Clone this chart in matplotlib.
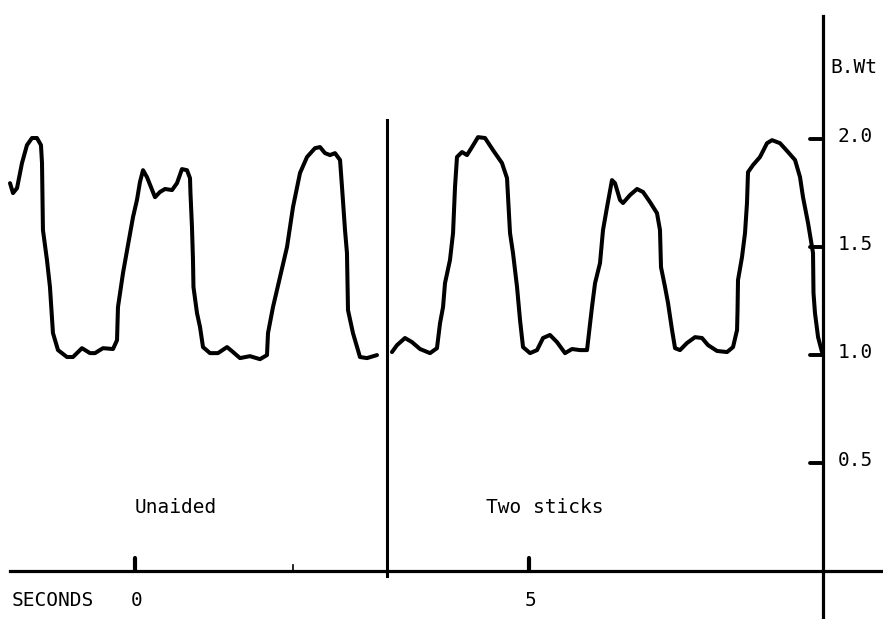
import matplotlib
matplotlib.use("Agg")
import matplotlib.pyplot as plt

# Body-weight trace, time in seconds, weight in body-weight units
unaided_t = [-1.586, -1.548, -1.497, -1.434, -1.371, -1.307, -1.244, -1.193, -1.180, -1.168,
             -1.117, -1.079, -1.041, -0.977, -0.863, -0.787, -0.673, -0.571, -0.508, -0.406,
             -0.279, -0.228, -0.216, -0.152, -0.089, -0.025, 0.025, 0.063, 0.102, 0.152,
             0.254, 0.317, 0.381, 0.470, 0.533, 0.596, 0.660, 0.698, 0.704, 0.723,
             0.736, 0.742, 0.787, 0.825, 0.863, 0.952, 1.053, 1.168, 1.244, 1.332,
             1.459, 1.586, 1.675, 1.688, 1.751, 1.840, 1.929, 2.005, 2.094, 2.183,
             2.284, 2.348, 2.411, 2.475, 2.538, 2.602, 2.627, 2.665, 2.690, 2.703,
             2.766, 2.855, 2.944, 3.071]
unaided_w = [1.796, 1.750, 1.773, 1.889, 1.972, 2.005, 2.005, 1.972, 1.889, 1.579,
             1.440, 1.315, 1.102, 1.023, 0.991, 0.991, 1.032, 1.009, 1.009, 1.032,
             1.028, 1.069, 1.222, 1.380, 1.509, 1.639, 1.718, 1.801, 1.856, 1.824,
             1.731, 1.755, 1.769, 1.764, 1.796, 1.861, 1.856, 1.819, 1.750, 1.593,
             1.440, 1.315, 1.194, 1.130, 1.037, 1.009, 1.009, 1.037, 1.014, 0.986,
             0.995, 0.981, 1.000, 1.102, 1.222, 1.361, 1.500, 1.685, 1.843, 1.917,
             1.958, 1.963, 1.935, 1.926, 1.935, 1.903, 1.778, 1.579, 1.472, 1.208,
             1.102, 0.991, 0.986, 1.000]

sticks_t = [3.261, 3.325, 3.426, 3.515, 3.617, 3.744, 3.832, 3.871, 3.909, 3.934,
            3.997, 4.036, 4.061, 4.086, 4.150, 4.213, 4.277, 4.353, 4.442, 4.543,
            4.657, 4.721, 4.734, 4.759, 4.797, 4.848, 4.886, 4.924, 5.013, 5.102,
            5.178, 5.266, 5.355, 5.457, 5.546, 5.647, 5.736, 5.799, 5.838, 5.901,
            5.939, 5.990, 6.053, 6.091, 6.155, 6.193, 6.282, 6.371, 6.447, 6.536,
            6.624, 6.662, 6.675, 6.726, 6.764, 6.815, 6.853, 6.916, 7.005, 7.107,
            7.195, 7.272, 7.386, 7.513, 7.589, 7.640, 7.646, 7.652, 7.703, 7.741,
            7.766, 7.779, 7.843, 7.931, 8.020, 8.084, 8.185, 8.287, 8.376, 8.439,
            8.477, 8.541, 8.604, 8.610, 8.629, 8.668, 8.718]
sticks_w = [1.014, 1.046, 1.079, 1.060, 1.028, 1.009, 1.032, 1.148, 1.222, 1.333,
            1.440, 1.565, 1.778, 1.917, 1.940, 1.926, 1.963, 2.009, 2.005, 1.949,
            1.889, 1.819, 1.731, 1.565, 1.472, 1.315, 1.162, 1.037, 1.009, 1.023,
            1.079, 1.093, 1.060, 1.009, 1.028, 1.023, 1.023, 1.222, 1.333, 1.426,
            1.579, 1.685, 1.810, 1.796, 1.718, 1.704, 1.741, 1.769, 1.755, 1.708,
            1.657, 1.579, 1.407, 1.315, 1.241, 1.116, 1.032, 1.023, 1.056, 1.083,
            1.079, 1.046, 1.019, 1.014, 1.037, 1.116, 1.208, 1.347, 1.454, 1.565,
            1.704, 1.847, 1.880, 1.917, 1.981, 1.995, 1.981, 1.940, 1.903, 1.824,
            1.731, 1.611, 1.472, 1.287, 1.194, 1.083, 1.014]

y_ticks = [2.0, 1.5, 1.0, 0.5]
y_tick_labels = ["2.0", "1.5", "1.0", "0.5"]
x_major_ticks = [0, 5]
x_major_labels = ["0", "5"]
x_minor_ticks = [2]
condition_labels = ["Unaided", "Two sticks"]
condition_x = [0.0, 4.46]

divider_t = 3.198
axis_t = 8.73

fig = plt.figure(figsize=(8.83, 6.19), dpi=100)
ax = fig.add_axes([0, 0, 1, 1])
ax.set_xlim(-1.713, 9.492)
ax.set_ylim(-0.222, 2.644)
ax.axis("off")

mono = "DejaVu Sans Mono"
fs = 14

# traces
ax.plot(unaided_t, unaided_w, color="black", lw=2.9, solid_capstyle="round", solid_joinstyle="round")
ax.plot(sticks_t, sticks_w, color="black", lw=2.9, solid_capstyle="round", solid_joinstyle="round")

# x axis
ax.plot([-1.59, 9.492], [0, 0], color="black", lw=2.3)
for t in x_major_ticks:
    ax.plot([t, t], [0, 0.06], color="black", lw=3.0, solid_capstyle="round")
for t in x_minor_ticks:
    ax.plot([t, t], [0, 0.028], color="black", lw=1.2)
for t, lab in zip(x_major_ticks, x_major_labels):
    ax.text(t + 0.02, -0.135, lab, family=mono, fontsize=fs, ha="center", va="center")
ax.text(-1.56, -0.135, "SECONDS", family=mono, fontsize=fs, ha="left", va="center")

# divider line
ax.plot([divider_t, divider_t], [-0.025, 2.09], color="black", lw=2.2)

# right weight axis
ax.plot([axis_t, axis_t], [-0.222, 2.57], color="black", lw=2.3)
for v, lab in zip(y_ticks, y_tick_labels):
    ax.plot([axis_t - 0.16, axis_t], [v, v], color="black", lw=2.8, solid_capstyle="round")
    ax.text(8.92, v + 0.01, lab, family=mono, fontsize=fs, ha="left", va="center")
ax.text(8.83, 2.333, "B.Wt", family=mono, fontsize=fs, ha="left", va="center")

# condition labels
for x, lab in zip(condition_x, condition_labels):
    ax.text(x, 0.296, lab, family=mono, fontsize=fs, ha="left", va="center")

fig.savefig("out.png", dpi=100)
